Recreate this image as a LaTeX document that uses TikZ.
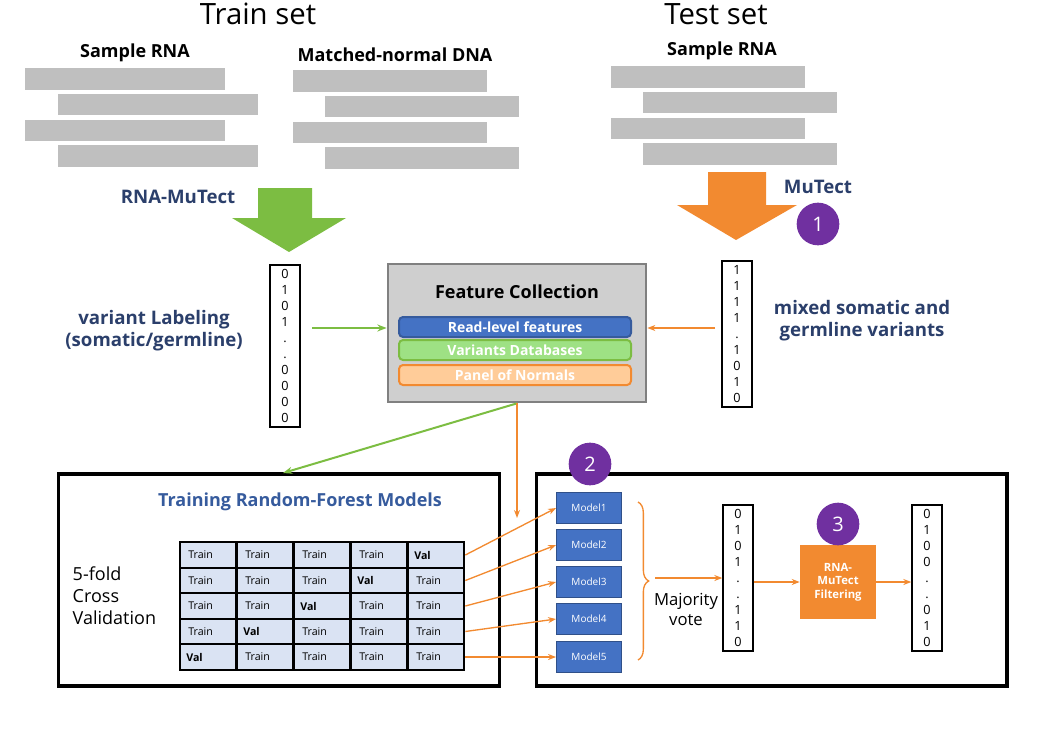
\documentclass[tikz,border=0pt]{standalone}
\usepackage{fontspec}
\setmainfont{Open Sans}
\usetikzlibrary{positioning,arrows.meta,decorations.pathreplacing}
\definecolor{rfgreen}{HTML}{7CBD42}
\definecolor{rforange}{HTML}{F28A30}
\definecolor{rfblue}{HTML}{4472C4}
\definecolor{rfnavy}{HTML}{2B3F6B}
\definecolor{rfpurple}{HTML}{7030A0}
\definecolor{rfgray}{HTML}{BFBFBF}
\definecolor{rfcell}{HTML}{DAE3F3}
\tikzset{
  read/.style={fill=rfgray,minimum width=150pt,minimum height=16pt,inner sep=0pt},
  vec/.style={draw,line width=1.5pt,align=center,inner sep=3pt,font=\fontsize{9.5}{12}\selectfont},
  lbl/.style={font=\bfseries\fontsize{14}{16.5}\selectfont,text=rfnavy,align=center},
  bar/.style={rounded corners=3pt,line width=1.5pt,minimum width=174pt,minimum height=15pt,inner sep=0pt,font=\bfseries\fontsize{10.5}{12}\selectfont,text=white},
  model/.style={fill=rfblue,draw=rfblue!70!black,minimum width=49pt,minimum height=23pt,inner sep=0pt,text=white,font=\fontsize{7.5}{8}\selectfont},
  cell/.style={fill=rfcell,draw=black,line width=1.5pt,minimum width=42.5pt,minimum height=19pt,inner sep=0pt,font=\fontsize{8}{9}\selectfont},
  num/.style={circle,fill=rfpurple,text=white,minimum size=32pt,inner sep=0pt,font=\fontsize{15}{16}\selectfont},
  oarr/.style={rforange,line width=1pt,-{Stealth[length=6pt]}},
  garr/.style={rfgreen,line width=1.5pt,-{Stealth[length=7pt]}},
}
\begin{document}
\begin{tikzpicture}[x=0.75pt,y=-0.75pt]
  \useasboundingbox (0,0) rectangle (1052,742);
  % headings
  \node[font=\fontsize{22}{24}\selectfont] (train) at (258,14) {Train set};
  \node[font=\fontsize{22}{24}\selectfont] (test) at (716,14) {Test set};
  \node[font=\bfseries\fontsize{13.5}{15}\selectfont] (srna) at (135,53) {Sample RNA};
  \node[font=\bfseries\fontsize{13.5}{15}\selectfont] (mdna) at (395,55) {Matched-normal DNA};
  \node[font=\bfseries\fontsize{13.5}{15}\selectfont] (trna) at (722,51) {Sample RNA};
  % reads
  \foreach \x/\d in {125/0,158/1,125/2,158/3}
    \node[read] at (\x,{79+\d*25.7}) {};
  \foreach \x/\d in {390/0,422/1,390/2,422/3}
    \node[read,minimum width=146pt] at (\x,{81+\d*25.7}) {};
  \foreach \x/\d in {708/0,740/1,708/2,740/3}
    \node[read,minimum width=146pt] at (\x,{77+\d*25.7}) {};
  % big arrows
  \fill[rfgreen] (258,188) -- (312,188) -- (312,218) -- (346,218) -- (289,252) -- (232,218) -- (258,218) -- cycle;
  \fill[rforange] (708,172) -- (766,172) -- (766,205) -- (797,205) -- (736,240) -- (677,205) -- (708,205) -- cycle;
  \node[lbl] (rnamutect) at (178,197) {RNA-MuTect};
  \node[lbl] (mutect) at (818,187) {MuTect};
  \node[num] (n1) at (818,224) {1};
  % label vectors
  \node[vec,minimum width=22pt] (vl) at (285,346) {0\\1\\0\\1\\.\\.\\0\\0\\0\\0};
  \node[vec,minimum width=22pt] (vr) at (737,334) {1\\1\\1\\1\\.\\1\\0\\1\\0};
  \node[lbl] (labeling) at (154,331) {variant Labeling\\(somatic/germline)};
  \node[lbl] (mixed) at (862,321) {mixed somatic and\\germline variants};
  % feature collection
  \node[fill=rfgray!75,draw=gray,line width=1.5pt,minimum width=194pt,minimum height=104pt] (fc) at (517,333) {};
  \node[font=\bfseries\fontsize{13.5}{15}\selectfont] (fctitle) at (517,292) {Feature Collection};
  \node[bar,fill=rfblue,draw=rfblue!80!black] (reads) at (515,327) {Read-level features};
  \node[bar,fill=green!25!rfgreen!60!white,draw=rfgreen] (vardb) at (515,350) {Variants Databases};
  \node[bar,fill=orange!40!white,draw=rforange] (pon) at (515,375) {Panel of Normals};
  \coordinate (vlr) at (312,328);
  \coordinate (vrl) at (715,328);
  \draw[garr] (vlr) -- (fc.west |- vlr);
  \draw[oarr,line width=1.5pt] (vrl) -- (fc.east |- vrl);
  % lower boxes
  \node[draw,line width=2.5pt,minimum width=331pt,minimum height=159pt] (cvbox) at (279,580) {};
  \node[draw,line width=2.5pt,minimum width=353pt,minimum height=159pt] (mbox) at (771.5,580) {};
  \draw[garr] (fc.south) -- (283,473);
  \draw[oarr,line width=1.5pt] (fc.south) -- (517,518);
  \node[font=\bfseries\fontsize{13.5}{15}\selectfont,text=rfblue!80!black] (cvtitle) at (300,502) {Training Random-Forest Models};
  \node[font=\fontsize{13.5}{16.5}\selectfont,align=left,anchor=west] (fold) at (68,596) {5-fold\\Cross\\Validation};
  % table
  \foreach \r in {1,...,5}
    \foreach \c in {1,...,5} {
      \pgfmathtruncatemacro{\v}{6-\r}
      \ifnum\c=\v
        \node[cell,font=\bfseries\fontsize{8}{9}\selectfont] (t\r\c) at ({208+(\c-1)*57},{555+(\r-1)*25.5}) {Val\hphantom{Train}};
      \else
        \node[cell] (t\r\c) at ({208+(\c-1)*57},{555+(\r-1)*25.5}) {Train\hphantom{Val}};
      \fi
    }
  % models
  \foreach \i/\y in {1/508,2/545,3/582,4/619,5/657}
    \node[model] (m\i) at (589,\y) {Model\i};
  \foreach \i in {1,...,5}
    \draw[oarr] (t\i5.east) -- (m\i.west);
  \node[num] (n2) at (590,464) {2};
  \draw[rforange,line width=1pt,decorate,decoration={brace,amplitude=8pt}] (638,502) -- (638,660);
  \node[vec,minimum width=22pt] (vm) at (738,578) {0\\1\\0\\1\\.\\.\\1\\1\\0};
  \draw[oarr] (655,578) -- (vm.west);
  \node[font=\fontsize{12.5}{15}\selectfont,align=center] (vote) at (686,609) {Majority\\vote};
  \node[fill=rforange,text=white,minimum width=57pt,minimum height=56pt,align=center,font=\bfseries\fontsize{8.5}{10}\selectfont] (filt) at (838,582) {RNA-\\MuTect\\Filtering};
  \node[num] (n3) at (838,524) {3};
  \node[vec,minimum width=22pt] (vo) at (927,578) {0\\1\\0\\0\\.\\.\\0\\1\\0};
  \draw[oarr] (vm.east |- filt) -- (filt.west);
  \draw[oarr] (filt.east) -- (vo.west |- filt);
\end{tikzpicture}
\end{document}
